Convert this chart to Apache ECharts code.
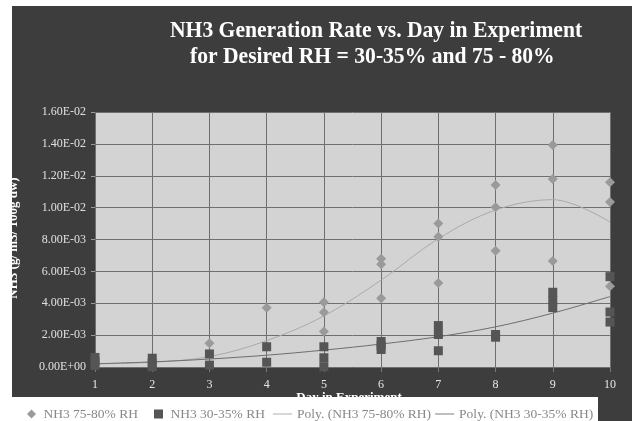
<!DOCTYPE html>
<html><head><meta charset="utf-8">
<script src="https://cdn.jsdelivr.net/npm/echarts@6/dist/echarts.min.js"></script>
<style>html,body{margin:0;padding:0;background:#fff}#c{width:632px;height:421px}</style>
</head><body><div id="c"></div>
<script>
// Data (values in g/m3/100g dw)
const days = [1, 2, 3, 4, 5, 6, 7, 8, 9, 10];
const xTickLabels = ['1','2','3','4','5','6','7','8','9','10'];
const yTickValues = [0, 0.002, 0.004, 0.006, 0.008, 0.010, 0.012, 0.014, 0.016];

const rh75Days   = [3, 4, 5, 5, 5, 6, 6, 6, 7, 7, 7, 8, 8, 8, 9, 9, 9, 10, 10, 10];
const rh75Values = [1.49e-3, 3.72e-3, 4.06e-3, 3.43e-3, 2.22e-3, 6.80e-3, 6.44e-3, 4.31e-3,
                    9.00e-3, 8.18e-3, 5.27e-3, 11.42e-3, 10.02e-3, 7.30e-3,
                    13.93e-3, 11.80e-3, 6.65e-3, 11.60e-3, 10.35e-3, 5.06e-3];

const rh30Days   = [1, 1, 1, 2, 2, 2, 3, 3, 4, 4, 5, 5, 5, 6, 6, 6, 7, 7, 7, 8, 8, 9, 9, 9, 10, 10, 10];
const rh30Values = [0.60e-3, 0.35e-3, 0.10e-3, 0.55e-3, 0.25e-3, 0.02e-3, 0.82e-3, 0.12e-3,
                    1.27e-3, 0.30e-3, 1.27e-3, 0.58e-3, 0.02e-3, 1.60e-3, 1.35e-3, 1.10e-3,
                    2.60e-3, 2.04e-3, 1.02e-3, 2.04e-3, 1.87e-3, 4.69e-3, 4.20e-3, 3.73e-3,
                    5.67e-3, 3.45e-3, 2.82e-3];

const poly75 = [0.20e-3, 0.30e-3, 0.65e-3, 1.65e-3, 3.20e-3, 5.45e-3, 8.05e-3, 9.85e-3, 10.50e-3, 9.10e-3];
const poly30 = [0.20e-3, 0.32e-3, 0.50e-3, 0.74e-3, 1.06e-3, 1.44e-3, 1.90e-3, 2.52e-3, 3.38e-3, 4.42e-3];

const names = ['NH3 75-80% RH', 'NH3 30-35% RH', 'Poly. (NH3 75-80% RH)', 'Poly. (NH3 30-35% RH)'];

function fmtE(v) {
  if (Math.abs(v) < 1e-12) return '0.00E+00';
  const p = v.toExponential(2).split('e');
  const sign = p[1][0] === '-' ? '-' : '+';
  const digs = p[1].replace(/[+-]/, '').padStart(2, '0');
  return p[0] + 'E' + sign + digs;
}

const serif = '"Liberation Serif", "DejaVu Serif", serif';
const legendText = {color: '#888', fontFamily: serif, fontSize: 13.5};
const chart = echarts.init(document.getElementById('c'), null, {renderer: 'canvas'});
const option = {
  backgroundColor: '#3d3d3d',
  animation: false,
  grid: {left: 95, right: 22, top: 112, bottom: 54, show: true, backgroundColor: '#d3d3d3', borderWidth: 0},
  xAxis: {
    type: 'value', min: 1, max: 10, interval: 1,
    axisLine: {show: false},
    axisTick: {show: true, length: 5, lineStyle: {color: '#777'}},
    axisLabel: {color: '#e6e6e6', fontFamily: serif, fontSize: 12, margin: 12,
      formatter: (v) => xTickLabels[days.indexOf(v)] || ''},
    splitLine: {show: true, lineStyle: {color: '#6f6f6f', width: 1}}
  },
  yAxis: {
    type: 'value', min: 0, max: 0.016, interval: 0.002,
    axisLine: {show: false},
    axisTick: {show: true, length: 4, lineStyle: {color: '#999'}},
    axisLabel: {color: '#e0e0e0', fontFamily: serif, fontSize: 12, margin: 9,
      formatter: (v) => fmtE(yTickValues.reduce((a, b) => Math.abs(b - v) < Math.abs(a - v) ? b : a))},
    splitLine: {show: true, lineStyle: {color: '#6f6f6f', width: 1}}
  },
  legend: [
    {
      z: 20, left: 22, top: 402, itemGap: 16, itemWidth: 14, itemHeight: 9, symbolKeepAspect: true,
      textStyle: legendText,
      data: [
        {name: names[0], icon: 'path://M5,0 L10,5 L5,10 L0,5 Z', itemStyle: {color: '#9a9a9a'}},
        {name: names[1], icon: 'path://M0,0 L10,0 L10,10 L0,10 Z', itemStyle: {color: '#555'}}
      ]
    },
    {
      z: 20, left: 268, top: 402, itemGap: 4, itemWidth: 19, itemHeight: 9,
      textStyle: legendText,
      data: [
        {name: names[2], icon: 'path://M0,0 L20,0 L20,1 L0,1 Z', itemStyle: {color: '#aaa'}},
        {name: names[3], icon: 'path://M0,0 L20,0 L20,1 L0,1 Z', itemStyle: {color: '#777'}}
      ]
    }
  ],
  series: [
    {name: names[2], type: 'line', data: days.map((d, i) => [d, poly75[i]]), smooth: 0.35,
      showSymbol: false, lineStyle: {color: '#aaaaaa', width: 1}, itemStyle: {color: '#aaa'}, z: 2},
    {name: names[3], type: 'line', data: days.map((d, i) => [d, poly30[i]]), smooth: 0.35,
      showSymbol: false, lineStyle: {color: '#6e6e6e', width: 1}, itemStyle: {color: '#6e6e6e'}, z: 2},
    {name: names[0], type: 'scatter', symbol: 'diamond', symbolSize: 10, clip: false,
      data: rh75Days.map((d, i) => [d, rh75Values[i]]), itemStyle: {color: '#9a9a9a', opacity: 1}, z: 3},
    {name: names[1], type: 'scatter', symbol: 'rect', symbolSize: 9, clip: false,
      data: rh30Days.map((d, i) => [d, rh30Values[i]]), itemStyle: {color: '#555555', opacity: 1}, z: 4}
  ],
  graphic: [
    {type: 'text', x: 170, y: 31, z: 5, scaleX: 0.9,
      style: {text: 'NH3 Generation Rate vs. Day in Experiment', fill: '#fff',
        font: 'bold 24px ' + serif, verticalAlign: 'middle', align: 'left'}},
    {type: 'text', x: 190, y: 57, z: 5, scaleX: 0.9,
      style: {text: 'for Desired RH = 30-35% and 75 - 80%', fill: '#fff',
        font: 'bold 24px ' + serif, verticalAlign: 'middle', align: 'left'}},
    {type: 'text', x: 14, y: 238, z: 5, rotation: Math.PI / 2,
      style: {text: 'NH3 (g/ m3/ 100g dw)', fill: '#fff',
        font: 'bold 13px ' + serif, verticalAlign: 'middle', align: 'center'}},
    {type: 'text', x: 349, y: 391, z: 5,
      style: {text: 'Day in Experiment', fill: '#fff',
        font: 'bold 13px ' + serif, verticalAlign: 'top', align: 'center'}},
    {type: 'rect', z: 10, shape: {x: 0, y: 0, width: 12, height: 421}, style: {fill: '#fff'}},
    {type: 'rect', z: 10, shape: {x: 0, y: 0, width: 632, height: 6}, style: {fill: '#fff'}},
    {type: 'rect', z: 10, shape: {x: 12, y: 397, width: 586, height: 24}, style: {fill: '#fff'}}
  ]
};
chart.setOption(option);
</script>
</body></html>
